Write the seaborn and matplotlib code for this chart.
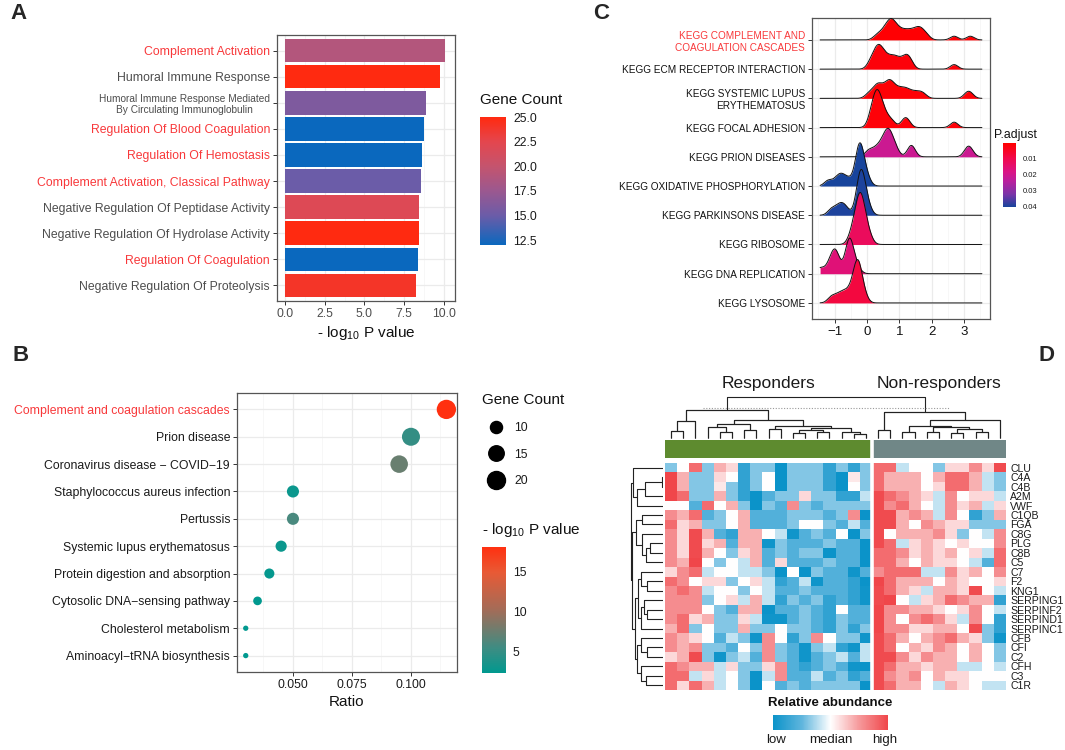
import numpy as np
import pandas as pd
import seaborn as sns
import matplotlib.pyplot as plt
from matplotlib.colors import LinearSegmentedColormap, ListedColormap, Normalize
from matplotlib.cm import ScalarMappable
from matplotlib.lines import Line2D
from matplotlib.transforms import blended_transform_factory

# ---------------- A: GO enrichment ----------------
go_terms = [
    "Complement Activation",
    "Humoral Immune Response",
    "Humoral Immune Response Mediated\nBy Circulating Immunoglobulin",
    "Regulation Of Blood Coagulation",
    "Regulation Of Hemostasis",
    "Complement Activation, Classical Pathway",
    "Negative Regulation Of Peptidase Activity",
    "Negative Regulation Of Hydrolase Activity",
    "Regulation Of Coagulation",
    "Negative Regulation Of Proteolysis",
]
go_logp = [10.1, 9.75, 8.9, 8.75, 8.6, 8.55, 8.45, 8.45, 8.4, 8.25]
go_count = [19, 25, 16, 12, 12, 15, 22, 25, 12, 24]
go_red = [1, 0, 0, 1, 1, 1, 0, 0, 1, 0]

# ---------------- B: KEGG enrichment ----------------
kegg_terms = [
    "Complement and coagulation cascades",
    "Prion disease",
    "Coronavirus disease \u2212 COVID\u221219",
    "Staphylococcus aureus infection",
    "Pertussis",
    "Systemic lupus erythematosus",
    "Protein digestion and absorption",
    "Cytosolic DNA\u2212sensing pathway",
    "Cholesterol metabolism",
    "Aminoacyl\u2212tRNA biosynthesis",
]
kegg_ratio = [0.115, 0.100, 0.095, 0.050, 0.050, 0.045, 0.040, 0.035, 0.030, 0.030]
kegg_count = [23, 20, 19, 10, 10, 9, 8, 7, 6, 6]
kegg_logp = [18.0, 5.0, 7.5, 3.0, 6.0, 3.0, 2.7, 2.5, 2.5, 2.4]
kegg_red = [1, 0, 0, 0, 0, 0, 0, 0, 0, 0]
size_legend = [10, 15, 20]

# ---------------- C: GSEA ridges ----------------
gsea_terms = [
    "KEGG COMPLEMENT AND\nCOAGULATION CASCADES",
    "KEGG ECM RECEPTOR INTERACTION",
    "KEGG SYSTEMIC LUPUS\nERYTHEMATOSUS",
    "KEGG FOCAL ADHESION",
    "KEGG PRION DISEASES",
    "KEGG OXIDATIVE PHOSPHORYLATION",
    "KEGG PARKINSONS DISEASE",
    "KEGG RIBOSOME",
    "KEGG DNA REPLICATION",
    "KEGG LYSOSOME",
]
gsea_padj = [0.0004, 0.0012, 0.0008, 0.001, 0.021, 0.0405, 0.040, 0.012, 0.016, 0.008]
gsea_red = [1, 0, 0, 0, 0, 0, 0, 0, 0, 0]
lfc_complement = [0.3, 0.45, 0.55, 0.62, 0.68, 0.72, 0.76, 0.8, 0.85, 0.92, 1.0, 1.1,
                  1.2, 1.3, 1.4, 1.5, 1.58, 1.65, 1.72, 1.85, 2.7, 3.2]
lfc_ecm = [0.1, 0.2, 0.27, 0.32, 0.36, 0.4, 0.45, 0.52, 0.6, 0.7, 0.8, 0.88, 0.98, 1.12,
           1.2, 1.28, 1.35, 2.7]
lfc_sle = [0.05, 0.2, 0.3, 0.35, 0.4, 0.5, 0.6, 0.65, 0.7, 0.75, 0.8, 0.9, 1.0, 1.1,
           1.2, 1.3, 1.45, 1.6, 1.75, 3.1, 3.2]
lfc_focal = [0.12, 0.18, 0.23, 0.27, 0.3, 0.33, 0.36, 0.4, 0.45, 0.52, 0.62, 0.78, 1.15,
             1.25, 2.7]
lfc_prion = [0.05, 0.25, 0.4, 0.5, 0.58, 0.63, 0.67, 0.72, 0.78, 0.9, 1.35, 1.4, 3.1, 3.2]
lfc_oxphos = [-1.2, -0.95, -0.82, -0.72, -0.55, -0.32, -0.28, -0.26, -0.24, -0.22, -0.2,
              -0.18, -0.15, -0.08, 0.02]
lfc_parkinson = [-1.1, -0.9, -0.78, -0.65, -0.3, -0.25, -0.22, -0.2, -0.18, -0.16, -0.14,
                 -0.11, -0.05, 0.05]
lfc_ribosome = [-0.5, -0.4, -0.35, -0.3, -0.27, -0.24, -0.22, -0.2, -0.18, -0.15, -0.12,
                -0.08, -0.02, 0.08]
lfc_dna = [-1.45, -1.2, -1.08, -1.02, -0.99, -0.95, -0.88, -0.62, -0.58, -0.56, -0.54,
           -0.52, -0.49, -0.45, -0.3]
lfc_lysosome = [-1.1, -0.9, -0.75, -0.62, -0.5, -0.4, -0.35, -0.32, -0.3, -0.28, -0.26,
                -0.23, -0.18, -0.08]

# ---------------- D: heatmap ----------------
genes = ["CLU", "C4A", "C4B", "A2M", "VWF", "C1QB", "FGA", "C8G", "PLG", "C8B", "C5", "C7",
         "F2", "KNG1", "SERPING1", "SERPINF2", "SERPIND1", "SERPINC1", "CFB", "CFI", "C2",
         "CFH", "C3", "C1R"]
responders = [
    [-1, 0, 2, -1, 1, 0.5, -2, -1, -1, -3, -1, -1, -1, -2, -1, -2, -1],
    [3, 1, -1, -1, 0.5, 0, -2, -1, 0, -3, -1, -1, -1, -2, -3, 0.3, -1],
    [3, 1, -1, -1, 0.3, -1, -2, -1, 0, -3, -1, -1, -1, -2, -3, 0, -1],
    [3, 2, -1, -1, 1, -1, -2, -3, -1.5, -1, -1, 0.5, -1, -1, -2, -2, -0.5],
    [0, 0, -1.5, 2, 0, 1, -1, -3, -1, -1.5, 1.5, -1, -1.5, -1, -1, -1, -1],
    [1.5, 1, 2, -1.5, -1, 0, 1, -1.5, -1.5, -1.5, -1, -1, -1, -1.5, -1, 1.5, -3],
    [2, 0.5, 1, -1, -1, 0, 1, -1.5, -1.5, -1.5, -1, 0, 0, -1, -1.5, -0.5, -1.5],
    [1.5, 0.5, 2.5, 1, -1.5, -2, 1, 1, 0, -0.5, -2.5, -1.5, -1, -1.5, 0, -3, -1],
    [1.5, 0.5, 2.5, 0.5, 1, -1.5, 1, 1, -2.5, -1, -1.5, -1.5, -1.5, -1, -1.5, -1.5, -3],
    [1.5, 0.5, 2.5, 1, 0, -1, 0.5, 1, -1.5, -1, -1.5, -1, -1, -3, -1.5, -1.5, -3],
    [1.5, 1, 3, 0, -1, 0, -0.5, 1, -1.5, 0.5, -1.5, -1.5, -1.5, -1, -1.5, -1.5, -3],
    [0.5, 1.5, 2, -0.5, 0, 0, -0.5, -0.5, -1, -3, 0, -3, -1, -1.5, -1.5, -2.5, -1.5],
    [2, 1.5, 0, 0.5, 0.5, -1, 0, 0.5, -0.5, -2, -1.5, -0.5, -2.5, -1.5, -1.5, -2, -3],
    [1.5, 2, 1.5, -0.5, 0, 0, -1, 0, -0.5, -1.5, -1.5, -1, -1.5, -1.5, -1.5, -2, -2.5],
    [1.5, 1.5, 1.5, -1, 0, 0.5, -0.5, 1, -0.5, -2, -1, -1.5, -1, -2, -1.5, -2, -2.5],
    [1.5, 1.5, 1.5, 0, -1, -1.5, 1, 1, -3, -1.5, -1.5, -1, -1.5, -2, 0, -1.5, -1.5],
    [1.5, 2, 0.5, 1, -1, -1, 0.5, -0.5, -2.5, -2.5, -1.5, -1, -1.5, -2, -1, -1.5, -1.5],
    [1, 2, -1, 0, -1, -1, 1, -1, -1, 0, -1, -1, -1.5, -2, -1, -2, -1],
    [1.5, 1, 0.5, 0, -1.5, -0.5, -1, -2.5, 1.5, 0, -2, -1, 1.5, 0, -1, -1, -2.5],
    [1.5, 1, 1.5, -1, -1, -1.5, 0, -1, 1.5, -1, -1.5, -2.5, -1, -0.5, -2, -2.5, -0.5],
    [0.5, 1, 2.5, -1, -2.5, -1, -0.5, -1.5, 1.5, -1, -1.5, -2.5, -1.5, -1, -0.5, -1.5, -0.5],
    [2, 1.5, 1, 1, -0.5, 0.5, -1, -1, 0.5, 1.5, -1.5, -2, -1.5, -1, -1.5, -2.5, -3],
    [2, 2, -0.5, 0.5, -0.5, 0, -1, -3, -0.5, 1.5, -1.5, -1.5, -0.5, -1.5, -1, -2, -1.5],
    [2, 0.5, 2, 1, -0.5, 0, -1, -3, 0, -1.5, -1, -1.5, -1, -1, -1, -1, -3],
]
non_responders = [
    [2, 2, -0.5, 0, 0, -1, 0.5, 0.5, 1.5, 0.5, 2.5],
    [2, 1, 1, 1, 0, 1, 2, 2, 1, -0.5, -1],
    [2, 1, 1, 1, 0, 0.5, 2, 2, 1, -0.5, -1],
    [2.5, 2, 1.5, 1, 0.5, -0.5, 1.5, 0, 0.5, 0.5, -0.5],
    [2.5, 1.5, 2, 1, 0, -0.5, 1.5, 0.5, 1, -0.5, 0.5],
    [2.5, 2.5, 1, 1.5, 1, -0.5, 1.5, 0, -2, -1, 1],
    [2.5, 2.5, 1, 0, 1.5, 1, 0.5, 0.5, -1, -1, -1],
    [2.5, 0, 1, 1, 1, 1.5, 0.5, -1, 0, -0.5, 1.5],
    [2.5, 2, -0.5, 0.5, 1, 0.5, 0, 0.5, 0, 0, 1.5],
    [2, 2, 1.5, 0.5, 1, 0.5, 1, 0, 0.5, -0.5, 2],
    [2, 2, 1, 0, 1, 0.5, 0.5, 0, -0.5, -1.5, 2],
    [1.5, 2, 2, 2, -0.5, -0.5, 1.5, 0.5, 1, 0, 1.5],
    [3, 2, 1, 1, 1, 0, 1, 0.5, 0, 0, 0.5],
    [2.5, 2, 1, 0.5, -0.5, 1, 1, 0.5, 2.5, 0, -0.5],
    [2.5, 3, 0, -0.5, 0.5, 1, 2, 1.5, 1, 1, -2],
    [3, 1.5, 1.5, 1, 1, 0.5, 0, 0.5, 1.5, 0, -0.5],
    [3, 1.5, 0, 1.5, 2, 1.5, 0.5, -0.5, 1.5, 0, -2],
    [3, 1.5, 1.5, 0.5, 0.5, 1, 1, 0, 2.5, -1, -2],
    [2.5, 2, 1, 0, 1, 1.5, 2, 1, 0.5, -1, -2.5],
    [2.5, 2, 0, 1, 0.5, 1.5, 1, 0, 1, 0, -1],
    [2.5, 2.5, 1.5, 0.5, 1.5, 1, 1, 0, 1, 0, -1],
    [2.5, 2, 1, 1, 0.5, 1, 1, -0.5, -0.5, 0, -0.5],
    [2.5, 1.5, 1, 1.5, 0, 1, 0.5, 0.5, 0, 0, 0],
    [2.5, 2, 1, 1, 0, -0.5, 1, 0.5, 0, -0.5, -0.5],
]
group_names = ["Responders", "Non-responders"]

# dendrograms: (left, right, merge height), leaves are column / row indices
resp_tree = (((0, 1, 1.8), 2, 4.2),
             (((3, (4, 5, 1.5), 2.6), (6, 7, 2.0), 3.4),
              ((8, 9, 2.2), (((10, 11, 1.2), (12, 13, 1.6), 2.0), (14, (15, 16, 1.0), 1.5), 2.5), 3.0),
              4.3),
             6.75)
non_tree = ((17, 18, 2.0),
            (((19, 20, 1.5), ((21, 22, 1.4), ((23, 24, 1.2), (25, 26, 1.6), 2.1), 2.6), 3.0), 27, 4.3),
            6.3)
col_tree = (resp_tree, non_tree, 10.0)
col_cut = 7.3

row_g1 = (0, (((1, 2, 0.2), 3, 5.8), 4, 8.4), 9.7)
row_a = (5, 6, 6.9)
row_b = (7, ((8, 9, 4.2), 10, 5.4), 6.6)
row_c = (11, (12, 13, 5.0), 7.0)
row_d = ((14, (15, 16, 5.2), 6.2), 17, 7.2)
row_e = (18, (19, 20, 5.3), 7.2)
row_f = (21, (22, 23, 5.6), 7.0)
row_tree = (row_g1, ((row_a, row_b, 8.6), ((row_c, row_d, 8.0), (row_e, row_f, 8.2), 8.9), 9.8), 10.3)

# ---------------- style ----------------
sns.set_theme(style="whitegrid")
plt.rcParams["font.family"] = ["Liberation Sans", "DejaVu Sans"]
plt.rcParams["mathtext.fontset"] = "custom"
plt.rcParams["mathtext.rm"] = "Liberation Sans"
plt.rcParams["mathtext.it"] = "Liberation Sans"

RED = "#f8383a"
W, H = 1065, 750
fig = plt.figure(figsize=(W / 100, H / 100), dpi=100)


def box(x0, y0, x1, y1):
    return [x0 / W, 1 - y1 / H, (x1 - x0) / W, (y1 - y0) / H]


def gg_frame(ax, labelcolor="#4d4d4d"):
    for s in ax.spines.values():
        s.set_visible(True)
        s.set_color("#555555")
        s.set_linewidth(0.9)
    ax.grid(True, which="major", color="#ebebeb", lw=0.9)
    ax.grid(True, which="minor", color="#f4f4f4", lw=0.5)
    ax.tick_params(which="major", length=3, width=0.7, color="#333333", bottom=True,
                   left=True, labelsize=8.8, labelcolor=labelcolor, pad=2)
    ax.tick_params(which="minor", length=0)
    ax.set_axisbelow(True)


def gg_colorbar(cax, cmap, norm, ticks, fmt, labelsize=8.8, orientation="vertical", ticklen=3.5):
    cb = fig.colorbar(ScalarMappable(norm=norm, cmap=cmap), cax=cax, orientation=orientation,
                      ticks=ticks, format=fmt)
    cb.outline.set_visible(False)
    cax.grid(False)
    if orientation == "vertical":
        cax.tick_params(axis="y", direction="in", length=ticklen, width=0.8, color="white",
                        left=True, right=True, labelleft=False, labelright=True,
                        labelsize=labelsize, labelcolor="#1a1a1a", pad=5)
    else:
        cax.tick_params(axis="x", direction="in", length=ticklen, width=0.8, color="white",
                        top=True, bottom=True, labelsize=labelsize, labelcolor="#1a1a1a", pad=3)
    return cb


# ---------------- panel A ----------------
cmapA = LinearSegmentedColormap.from_list(
    "gcA", [(0, "#0a68be"), (0.23, "#6b5ca8"), (0.42, "#9a5890"), (0.615, "#c4546e"),
            (0.81, "#e4464e"), (1, "#ff2a10")])
normA = Normalize(min(go_count), max(go_count))
dfA = pd.DataFrame({"term": go_terms, "logp": go_logp, "count": go_count})
axA = fig.add_axes(box(277, 35, 455, 301))
sns.barplot(data=dfA, x="logp", y="term", hue="term", legend=False, ax=axA,
            palette=[cmapA(normA(c)) for c in go_count], width=0.9, saturation=1, linewidth=0)
gg_frame(axA)
axA.set_xlim(-0.51, 10.71)
axA.set_ylim(len(go_terms) - 0.4, -0.6)
axA.set_xticks(np.arange(0, 10.1, 2.5), labels=[f"{v:.1f}" for v in np.arange(0, 10.1, 2.5)])
axA.set_xticks(np.arange(1.25, 10.1, 2.5), minor=True)
axA.set_yticks(range(len(go_terms)), labels=go_terms)
for lab, r in zip(axA.get_yticklabels(), go_red):
    lab.set_color(RED if r else "#4d4d4d")
    lab.set_multialignment("center")
    if "\n" in lab.get_text():
        lab.set_fontsize(7.3)
axA.set_ylabel("")
axA.set_xlabel(r"- log$_{10}$ P value", fontsize=11, color="#111111", labelpad=3)

caxA = fig.add_axes(box(480, 117, 506, 245))
gg_colorbar(caxA, cmapA, normA, [12.5, 15, 17.5, 20, 22.5, 25], "%.1f", ticklen=4.5)
fig.text(480 / W, 1 - 100 / H, "Gene Count", fontsize=11, va="center", color="#111111")

# ---------------- panel B ----------------
cmapB = LinearSegmentedColormap.from_list(
    "lpB", [(0, "#00998f"), (0.2, "#3f8c82"), (0.5, "#a36c58"), (0.8, "#e85a35"), (1, "#ff3010")])
normB = Normalize(min(kegg_logp), max(kegg_logp))
cmin, cmax = min(kegg_count), max(kegg_count)


def point_area(c):
    d_px = 2.5 + 2.8 * (1 + 5 * np.sqrt((c - cmin) / (cmax - cmin)))
    return (d_px * 0.72) ** 2


dfB = pd.DataFrame({"term": kegg_terms, "ratio": kegg_ratio, "count": kegg_count,
                    "logp": kegg_logp})
axB = fig.add_axes(box(237, 393, 457, 672))
sns.scatterplot(data=dfB, x="ratio", y="term", hue="logp", palette=cmapB, hue_norm=normB,
                size="count", sizes={c: point_area(c) for c in set(kegg_count)},
                legend=False, linewidth=0, alpha=1, ax=axB, zorder=3)
gg_frame(axB, labelcolor="#1a1a1a")
axB.set_xlim(0.0263, 0.1195)
axB.set_ylim(len(kegg_terms) - 0.4, -0.6)
axB.set_xticks([0.05, 0.075, 0.1], labels=["0.050", "0.075", "0.100"])
axB.set_xticks([0.0375, 0.0625, 0.0875, 0.1125], minor=True)
axB.set_yticks(range(len(kegg_terms)), labels=kegg_terms)
for lab, r in zip(axB.get_yticklabels(), kegg_red):
    lab.set_color(RED if r else "#1a1a1a")
axB.set_ylabel("")
axB.set_xlabel("Ratio", fontsize=11, color="#111111", labelpad=3)

fig.text(482 / W, 1 - 400 / H, "Gene Count", fontsize=11, va="center", color="#111111")
handles = [Line2D([], [], marker="o", ls="", color="black", markersize=np.sqrt(point_area(c)))
           for c in size_legend]
fig.legend(handles, [str(c) for c in size_legend], loc="upper left",
           bbox_to_anchor=(484 / W, 1 - 422 / H), frameon=False, fontsize=8.8,
           labelspacing=1.2, handletextpad=0.5, borderpad=0, borderaxespad=0,
           labelcolor="#1a1a1a")
fig.text(482 / W, 1 - 530 / H, r"- log$_{10}$ P value", fontsize=11, va="center", color="#111111")
caxB = fig.add_axes(box(482, 547, 506, 673))
gg_colorbar(caxB, cmapB, normB, [5, 10, 15], "%d", ticklen=4)

# ---------------- panel C ----------------
gsea_values = [lfc_complement, lfc_ecm, lfc_sle, lfc_focal, lfc_prion, lfc_oxphos,
               lfc_parkinson, lfc_ribosome, lfc_dna, lfc_lysosome]
cmapC = LinearSegmentedColormap.from_list(
    "padj", [(0, "#ff0000"), (0.25, "#f00a50"), (0.45, "#da1486"), (0.6, "#b8209e"),
             (0.8, "#7a34a8"), (1, "#17449c")])
normC = Normalize(0.0, 0.0405)
bw = 0.12
all_lfc = np.concatenate([np.asarray(v) for v in gsea_values])
grid = np.linspace(all_lfc.min(), all_lfc.max() + 3 * bw, 700)
dens = []
for v in gsea_values:
    v = np.asarray(v)
    k = np.exp(-0.5 * ((grid[:, None] - v[None, :]) / bw) ** 2)
    dens.append(k.sum(axis=1) / (len(v) * bw * np.sqrt(2 * np.pi)))
ridge_scale = 1.78 / max(d.max() for d in dens)

axC = fig.add_axes(box(812, 18, 990, 319))
n = len(gsea_terms)
for i, (d, p) in enumerate(zip(dens, gsea_padj)):
    base = n - 1 - i
    axC.fill_between(grid, base, base + d * ridge_scale, color=cmapC(normC(p)), lw=0,
                     zorder=3 + 2 * i)
    axC.plot(grid, base + d * ridge_scale, color="#111111", lw=0.7, zorder=3.5 + 2 * i)
gg_frame(axC, labelcolor="#111111")
span = grid[-1] - grid[0]
axC.set_xlim(grid[0] - 0.05 * span, grid[-1] + 0.05 * span)
axC.set_ylim(-0.55, n - 0.25)
axC.set_xticks([-1, 0, 1, 2, 3])
axC.set_xticks([-1.5, -0.5, 0.5, 1.5, 2.5, 3.5], minor=True)
axC.set_yticks([n - 1 - i for i in range(n)], labels=gsea_terms)
axC.tick_params(axis="y", labelsize=7.2)
axC.tick_params(axis="x", labelsize=9.5)
for lab, r in zip(axC.get_yticklabels(), gsea_red):
    lab.set_color(RED if r else "#111111")
    lab.set_multialignment("right")

fig.text(994 / W, 1 - 135 / H, "P.adjust", fontsize=8.8, va="center", color="#111111")
caxC = fig.add_axes(box(1003, 143, 1016, 207))
gg_colorbar(caxC, cmapC, normC, [0.01, 0.02, 0.03, 0.04], "%.2f", labelsize=5.5, ticklen=2.5)
caxC.invert_yaxis()

# ---------------- panel D ----------------
n_resp = len(responders[0])
heat = pd.DataFrame(np.hstack([np.array(responders), np.array(non_responders)]), index=genes)
n_cols = heat.shape[1]
cmapD = LinearSegmentedColormap.from_list(
    "abund", [(0, "#0b93c9"), (0.25, "#5fb5dd"), (0.5, "#ffffff"), (0.75, "#f6999b"),
              (1, "#f0464a")])

axD = fig.add_axes(box(665, 463, 1006, 690))
sns.heatmap(heat, cmap=cmapD, vmin=-2.6, vmax=2.6, cbar=False, xticklabels=False,
            yticklabels=genes, ax=axD)
axD.axvline(n_resp, color="white", lw=2.6)
axD.yaxis.tick_right()
axD.tick_params(axis="y", length=0, labelsize=7.6, labelcolor="#1a1a1a", pad=3,
                labelrotation=0, right=False, left=False)

groups = np.array([0] * n_resp + [1] * (n_cols - n_resp))[None, :]
axBar = fig.add_axes(box(665, 440, 1006, 458))
sns.heatmap(groups, cmap=ListedColormap(["#5e8b2f", "#708787"]), cbar=False,
            xticklabels=False, yticklabels=False, ax=axBar)
axBar.axvline(n_resp, color="white", lw=2.6)


def draw_tree(ax, node, top=True):
    if isinstance(node, int):
        return node + 0.5, 0.0
    left, right, h = node
    p1, h1 = draw_tree(ax, left, top)
    p2, h2 = draw_tree(ax, right, top)
    pos = [p1, p1, p2, p2]
    hts = [h1, h, h, h2]
    if top:
        ax.plot(pos, hts, color="#222222", lw=0.8, solid_capstyle="butt")
    else:
        ax.plot(hts, pos, color="#222222", lw=0.8, solid_capstyle="butt")
    return (p1 + p2) / 2, h


axCol = fig.add_axes(box(665, 396, 1006, 439))
root_l, _ = draw_tree(axCol, resp_tree)
root_r, _ = draw_tree(axCol, non_tree)
draw_tree(axCol, col_tree)
axCol.plot([root_l - 2, root_r + 2], [col_cut, col_cut], ls=(0, (1, 1.5)), color="#999999", lw=0.8)
axCol.set_xlim(0, n_cols)
axCol.set_ylim(-0.2, 10.2)
axCol.axis("off")
tr = blended_transform_factory(axCol.transData, fig.transFigure)
axCol.text(n_resp / 2, 1 - 383 / H, group_names[0], transform=tr, ha="center", va="center",
           fontsize=12.5, color="#1a1a1a")
axCol.text((n_resp + n_cols) / 2, 1 - 383 / H, group_names[1], transform=tr, ha="center",
           va="center", fontsize=12.5, color="#1a1a1a")

axRow = fig.add_axes(box(630, 463, 663, 690))
draw_tree(axRow, row_tree, top=False)
axRow.set_xlim(10.6, 0)
axRow.set_ylim(len(genes), 0)
axRow.axis("off")

fig.text(830 / W, 1 - 703 / H, "Relative abundance", fontsize=9.5, fontweight="bold",
         ha="center", va="center", color="#111111")
caxD = fig.add_axes(box(773, 715, 888, 730))
cbD = gg_colorbar(caxD, cmapD, Normalize(-2.6, 2.6), [-2.45, 0, 2.45], None, labelsize=9.5,
                  orientation="horizontal", ticklen=3)
cbD.set_ticklabels(["low", "median", "high"])

# ---------------- panel letters ----------------
for letter, (x, y) in zip("ABCD", [(10, 3), (12, 345), (593, 3), (1038, 345)]):
    fig.text(x / W, 1 - y / H, letter, fontsize=16, fontweight="bold", va="top", ha="left")

fig.savefig("out.png", dpi=100)
